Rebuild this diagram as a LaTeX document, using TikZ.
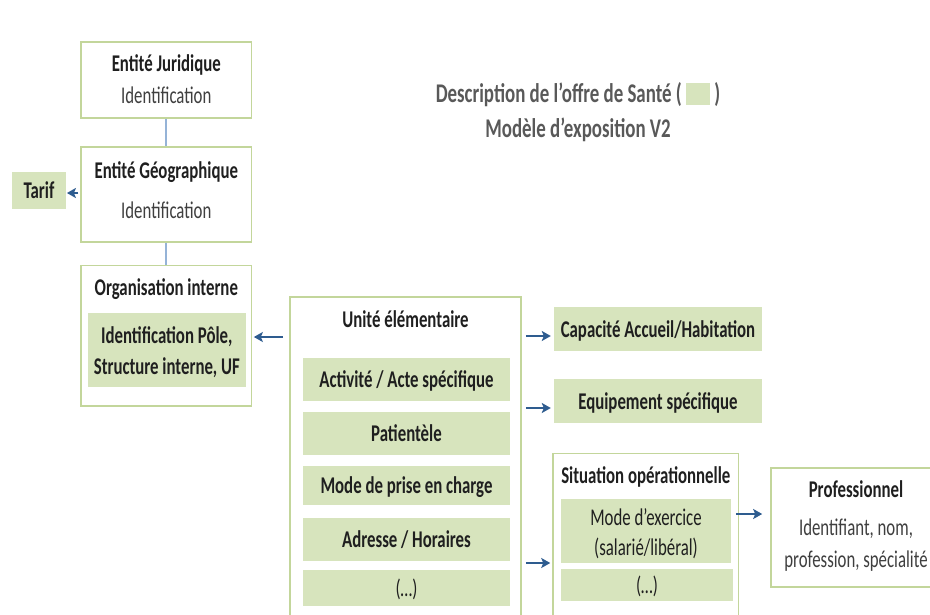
\documentclass[tikz,border=0pt]{standalone}
\usepackage{fontspec}
\setmainfont{Carlito}[FakeStretch=0.7]
\usetikzlibrary{arrows.meta}

\definecolor{leaf}{HTML}{D7E4BD}
\definecolor{framegreen}{HTML}{C3D69B}
\definecolor{linkblue}{HTML}{95B3D7}
\definecolor{arrowblue}{HTML}{2E5C8F}
\definecolor{ink}{HTML}{1F1F1F}
\definecolor{soft}{HTML}{3F3F3F}
\definecolor{titlegray}{HTML}{595959}

\tikzset{
  outer/.style={draw=framegreen, line width=1.6pt, fill=white, inner sep=0pt},
  cell/.style={fill=leaf, inner sep=0pt, text height=16pt, text depth=0pt,
    font=\fontsize{24}{32}\selectfont\bfseries},
  plaincell/.style={cell, font=\fontsize{24}{32}\selectfont},
  head/.style={anchor=base, inner sep=0pt, font=\fontsize{24}{32}\selectfont\bfseries},
  sub/.style={anchor=base, inner sep=0pt, text=soft, font=\fontsize{24}{32}\selectfont},
  link/.style={draw=linkblue, line width=2pt},
  arr/.style={draw=arrowblue, line width=1.8pt, -{Stealth[length=9pt,width=10pt,inset=2pt]}}
}

\begin{document}
\begin{tikzpicture}[x=1pt, y=-1pt, every node/.style={text=ink}]
      \useasboundingbox (0,0) rectangle (930,614);
      % titre
      \node[anchor=base, inner sep=0pt, align=center, text=titlegray,
        font=\fontsize{27}{35}\selectfont\bfseries] (titre) at (578,137)
        {Description de l’offre de Santé ( \textcolor{leaf}{\rule[-3pt]{24pt}{22pt}} )\\Modèle d’exposition V2};
      % colonne de gauche
      \node[outer, minimum width=170.5pt, minimum height=75.5pt] (ej) at (166.3,80) {};
      \node[head] (ejtitle) at (166.3,71) {Entité Juridique};
      \node[sub] (ejid) at (166.3,103) {Identification};
      \node[outer, minimum width=170.5pt, minimum height=95pt] (eg) at (166.3,194.2) {};
      \node[head] (egtitle) at (166.3,178) {Entité Géographique};
      \node[sub] (egid) at (166.3,218) {Identification};
      \node[cell, minimum width=53.4pt, minimum height=37.3pt] (tarif) at (39,190.3) {Tarif};
      \node[outer, minimum width=170.5pt, minimum height=140.3pt] (org) at (166.3,335.8) {};
      \node[head] (orgtitle) at (166.3,295) {Organisation interne};
      \node[cell, minimum width=158.3pt, minimum height=73.7pt] (orgin) at (166.8,349.8) {};
      \node[head] (orgl1) at (166.8,343) {Identification Pôle,};
      \node[head] (orgl2) at (166.8,374) {Structure interne, UF};
      \draw[link] (ej.south) -- (eg.north);
      \draw[link] (eg.south) -- (org.north);
      \draw[arr, shorten <=2pt, shorten >=1pt] (eg.west |- 0,193) -- (tarif.east |- 0,193);
      % unite elementaire
      \node[outer, minimum width=231pt, minimum height=328.3pt] (ue) at (405.5,460.9) {};
      \node[head] (uetitle) at (405.5,327) {Unité élémentaire};
      \node[cell, minimum width=207pt, minimum height=43pt] (act) at (406.5,379) {Activité / Acte spécifique};
      \node[cell, minimum width=207pt, minimum height=43pt] (pat) at (406.5,433) {Patientèle};
      \node[cell, minimum width=207pt, minimum height=39pt] (prise) at (406.5,485.5) {Mode de prise en charge};
      \node[cell, minimum width=207pt, minimum height=43pt] (adr) at (406.5,539) {Adresse / Horaires};
      \node[plaincell, minimum width=207pt, minimum height=36pt] (ueetc) at (406.5,588) {(…)};
      \draw[arr, shorten <=6pt, shorten >=1.5pt] (ue.west |- 0,337) -- (org.east |- 0,337);
      % colonne de droite
      \node[cell, minimum width=208pt, minimum height=44pt] (cap) at (658,329) {Capacité Accueil/Habitation};
      \node[cell, minimum width=208pt, minimum height=44pt] (equip) at (658,401) {Equipement spécifique};
      \node[outer, minimum width=185.5pt, minimum height=171.7pt] (sit) at (645.8,539.2) {};
      \node[head] (sittitle) at (645.8,483) {Situation opérationnelle};
      \node[cell, minimum width=170pt, minimum height=64pt] (exer) at (646,531) {};
      \node[sub, text=ink] (exl1) at (646,525) {Mode d’exercice};
      \node[sub, text=ink] (exl2) at (646,555) {(salarié/libéral)};
      \node[plaincell, minimum width=172pt, minimum height=32pt] (sitetc) at (647,585) {(…)};
      \draw[arr, shorten <=4pt, shorten >=3pt] (ue.east |- 0,336) -- (cap.west |- 0,336);
      \draw[arr, shorten <=4pt, shorten >=3pt] (ue.east |- 0,408) -- (equip.west |- 0,408);
      \draw[arr, shorten <=4pt, shorten >=2pt] (ue.east |- 0,563) -- (sit.west |- 0,563);
      % professionnel
      \node[outer, minimum width=170pt, minimum height=119pt] (pro) at (856,527.5) {};
      \node[head] (protitle) at (856,497) {Professionnel};
      \node[sub] (prol1) at (856,535) {Identifiant, nom,};
      \node[sub] (prol2) at (856,567) {profession, spécialité};
      \draw[arr, shorten <=-3pt, shorten >=8pt] (sit.east |- 0,514) -- (pro.west |- 0,514);
    \end{tikzpicture}
\end{document}
